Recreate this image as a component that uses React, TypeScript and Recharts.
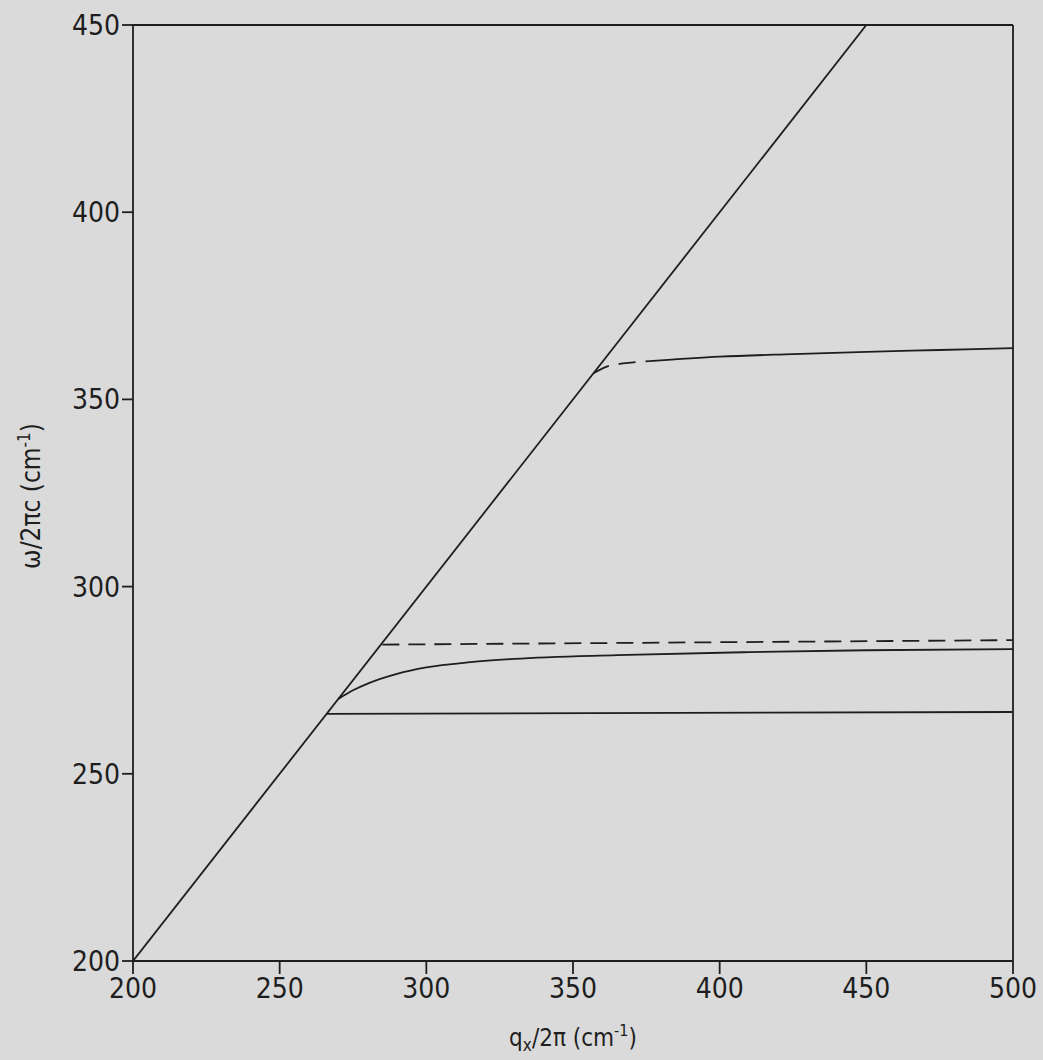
import { LineChart, Line, XAxis, YAxis, ReferenceLine, Label } from 'recharts';

// q_x/2pi (cm-1) vs omega/2pi c (cm-1)
const xTicks = [200, 250, 300, 350, 400, 450, 500];
const yTicks = [200, 250, 300, 350, 400, 450];

const lightQ = [200, 450];
const lightW = [200, 450];

const upperDashQ = [357, 362, 367, 372, 376];
const upperDashW = [357, 358.9, 359.6, 360, 360.2];

const upperQ = [376, 400, 425, 450, 475, 500];
const upperW = [360.2, 361.4, 362.1, 362.7, 363.2, 363.7];

const lowerCurveQ = [270, 275, 280, 290, 300, 315, 330, 365, 410, 450, 500];
const lowerCurveW = [270, 272.3, 274.1, 276.7, 278.4, 279.8, 280.7, 281.7, 282.5, 283, 283.3];

const lowerDashQ = [285, 500];
const lowerDashW = [284.5, 285.7];

const flatQ = [266, 500];
const flatW = [266, 266.5];

const toPts = (q: number[], w: number[]) => q.map((x, i) => ({ q: x, w: w[i] }));

const INK = '#1e1e1e';
const FONT = '"DejaVu Sans Condensed", "DejaVu Sans", sans-serif';

const XTitle = ({ viewBox }: any) => {
  const cx = viewBox.x + viewBox.width / 2;
  return (
    <text x={cx} y={1046} textAnchor="middle" fill={INK} fontSize={24} fontFamily={FONT}
      fontStretch="condensed"
    >
      q<tspan fontSize={17} dy={5}>x</tspan>
      <tspan dy={-5}>/2π (cm</tspan>
      <tspan fontSize={16} dy={-10}>-1</tspan>
      <tspan dy={10}>)</tspan>
    </text>
  );
};

const YTitle = () => (
  <text x={0} y={0} transform="translate(40 496) rotate(-90)" textAnchor="middle"
    fill={INK} fontSize={26} fontFamily={FONT} fontStretch="condensed"
  >
    ω/2πc (cm<tspan fontSize={17} dy={-10}>-1</tspan>
    <tspan dy={10}>)</tspan>
  </text>
);

export default function App() {
  const line = (q: number[], w: number[], key: string, dash?: string) => (
    <Line key={key} data={toPts(q, w)} dataKey="w" type="monotone" stroke={INK}
      strokeWidth={1.8} strokeDasharray={dash} dot={false} activeDot={false}
      isAnimationActive={false}
    />
  );

  return (
    <div style={{ width: 1043, height: 1060, background: '#dadada' }}>
      <style>{'body{margin:0}'}</style>
      <LineChart width={1043} height={1060} margin={{ top: 25, right: 30, bottom: 0, left: 0 }}>
        <XAxis dataKey="q" type="number" domain={[200, 500]} ticks={xTicks} allowDataOverflow
          height={99} stroke={INK} strokeWidth={1.8} tickSize={13} tickMargin={4}
          tick={{ fill: INK, fontSize: 28, fontFamily: FONT, fontStretch: 'condensed' }}
        >
          <Label content={<XTitle />} />
        </XAxis>
        <YAxis type="number" domain={[200, 450]} ticks={yTicks} allowDataOverflow
          width={133} stroke={INK} strokeWidth={1.8} tickSize={11} tickMargin={2}
          tick={{ fill: INK, fontSize: 28, fontFamily: FONT, fontStretch: 'condensed' }}
        >
          <Label content={<YTitle />} />
        </YAxis>
        <ReferenceLine y={450} stroke={INK} strokeWidth={2.2} />
        <ReferenceLine x={500} stroke={INK} strokeWidth={1.8} />
        {line(lightQ, lightW, 'light')}
        {line(upperDashQ, upperDashW, 'upperDash', '17 10')}
        {line(upperQ, upperW, 'upper')}
        {line(lowerCurveQ, lowerCurveW, 'lowerCurve')}
        {line(lowerDashQ, lowerDashW, 'lowerDash', '17 9')}
        {line(flatQ, flatW, 'flat')}
      </LineChart>
    </div>
  );
}
